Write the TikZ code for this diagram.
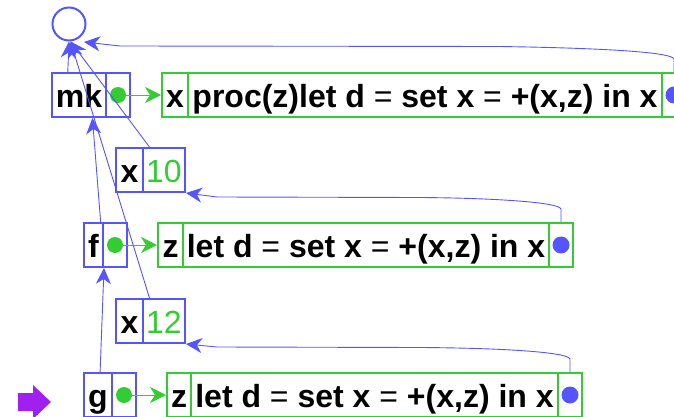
\documentclass[tikz,border=0pt]{standalone}
\usepackage{fontspec}
\setmainfont{Liberation Sans}
\usetikzlibrary{arrows.meta,calc}
\definecolor{blu}{RGB}{85,85,255}
\definecolor{grn}{RGB}{51,204,51}
\definecolor{purp}{RGB}{160,32,240}
\newcommand{\myeq}{{\mdseries =}}
\begin{document}
\begin{tikzpicture}[x=1pt,y=-1pt,
  cell/.style={draw=#1, line width=2pt, minimum height=44pt, inner sep=0pt,
    text height=24pt, text depth=0pt, font=\fontsize{32}{36}\selectfont\bfseries},
  numtext/.style={text=grn, font=\fontsize{32}{36}\selectfont\mdseries},
  gdot/.style={circle, fill=grn, minimum size=16pt, inner sep=0pt},
  bdot/.style={circle, fill=blu, minimum size=17pt, inner sep=0pt},
  barrow/.style={draw=blu, line width=0.9pt, -{Stealth[length=16pt,width=15pt,inset=5pt]}},
  bline/.style={draw=blu, line width=0.9pt},
  garrow/.style={draw=grn, line width=0.9pt, -{Stealth[length=16pt,width=16pt,inset=5pt]}}
]
\useasboundingbox (0,0) rectangle (674,417);
\clip (0,0) rectangle (674,417);

% global environment
\node[draw=blu, circle, line width=2pt, minimum size=33pt, inner sep=0pt] (glob) at (69,24) {};
\coordinate (gtip) at (84,42);

% mk row
\node[cell=blu, minimum width=54pt] (mkn) at (79,95) {mk};
\node[cell=blu, minimum width=24pt] (mkd) at (118,95) {};
\node[gdot] (mkdot) at (mkd.center) {};
\node[cell=grn, minimum width=26pt] (p1x) at (175,95) {x};
\node[cell=grn, minimum width=474pt] (p1c) at (425,95) {proc(z)let d \myeq{} set x \myeq{} +(x,z) in x};
\node[cell=grn, minimum width=24pt] (p1d) at (674,95) {};
\node[bdot] (p1dot) at (p1d.center) {};

% x 10 frame
\node[cell=blu, minimum width=27pt] (xan) at (129.5,170) {x};
\node[cell=blu, minimum width=42pt, numtext] (xav) at (164,170) {10};

% f row
\node[cell=blu, minimum width=19pt] (fn) at (93.5,245) {f};
\node[cell=blu, minimum width=24pt] (fd) at (115,245) {};
\node[gdot] (fdot) at (fd.center) {};
\node[cell=grn, minimum width=25pt] (p2z) at (170.5,245) {z};
\node[cell=grn, minimum width=366pt] (p2c) at (366,245) {let d \myeq{} set x \myeq{} +(x,z) in x};
\node[cell=grn, minimum width=24pt] (p2d) at (561,245) {};
\node[bdot] (p2dot) at (p2d.center) {};

% x 12 frame
\node[cell=blu, minimum width=27pt] (xbn) at (129.5,321) {x};
\node[cell=blu, minimum width=42pt, numtext] (xbv) at (164,321) {12};

% g row
\node[cell=blu, minimum width=28pt] (gn) at (98,395) {g};
\node[cell=blu, minimum width=24pt] (gd) at (124,395) {};
\node[gdot] (gdot) at (gd.center) {};
\node[cell=grn, minimum width=24pt] (p3z) at (179,395) {z};
\node[cell=grn, minimum width=367pt] (p3c) at (374.5,395) {let d \myeq{} set x \myeq{} +(x,z) in x};
\node[cell=grn, minimum width=24pt] (p3d) at (570,395) {};
\node[bdot] (p3dot) at (p3d.center) {};

% green pointers to procedures
\draw[garrow] (mkdot.center) -- (p1x.west);
\draw[garrow] (fdot.center) -- (p2z.west);
\draw[garrow] (gdot.center) -- (p3z.west);

% procedure environment pointers
\draw[barrow] (p1d.north) -- ++(0,-13) .. controls (672,52) and (600,48) .. (500,46.5) -- (120,46) -- (gtip);
\draw[barrow] (p2d.north) -- ++(0,-13) .. controls (559,202) and (490,198) .. (420,197.5) -- (217,197) -- (xav.south east);
\draw[barrow] (p3d.north) -- ++(0,-13) .. controls (568,352) and (500,348) .. (420,347.5) -- (217,347) -- (xbv.south east);

% frame parent pointers
\draw[barrow] ($(mkn.north west)!0.3!(mkn.north east)$) -- (glob.south);
\draw[barrow] ($(xav.north west)!0.17!(xav.north east)$) -- (glob.-85);
\draw[barrow] ($(xbv.north west)!0.17!(xbv.north east)$) -- (glob.-85);
\draw[barrow] ($(fn.north west)!0.84!(fn.north east)$) -- ($(mkn.south west)!0.74!(mkn.south east)$);
\draw[barrow] ($(gn.north west)!0.57!(gn.north east)$) -- ($(fd.south west)+(2,0)$);

% current-frame marker
\fill[purp] (18,393) -- (33,393) -- (33,385) -- (51,402) -- (33,419) -- (33,411) -- (18,411) -- cycle;
\end{tikzpicture}
\end{document}
